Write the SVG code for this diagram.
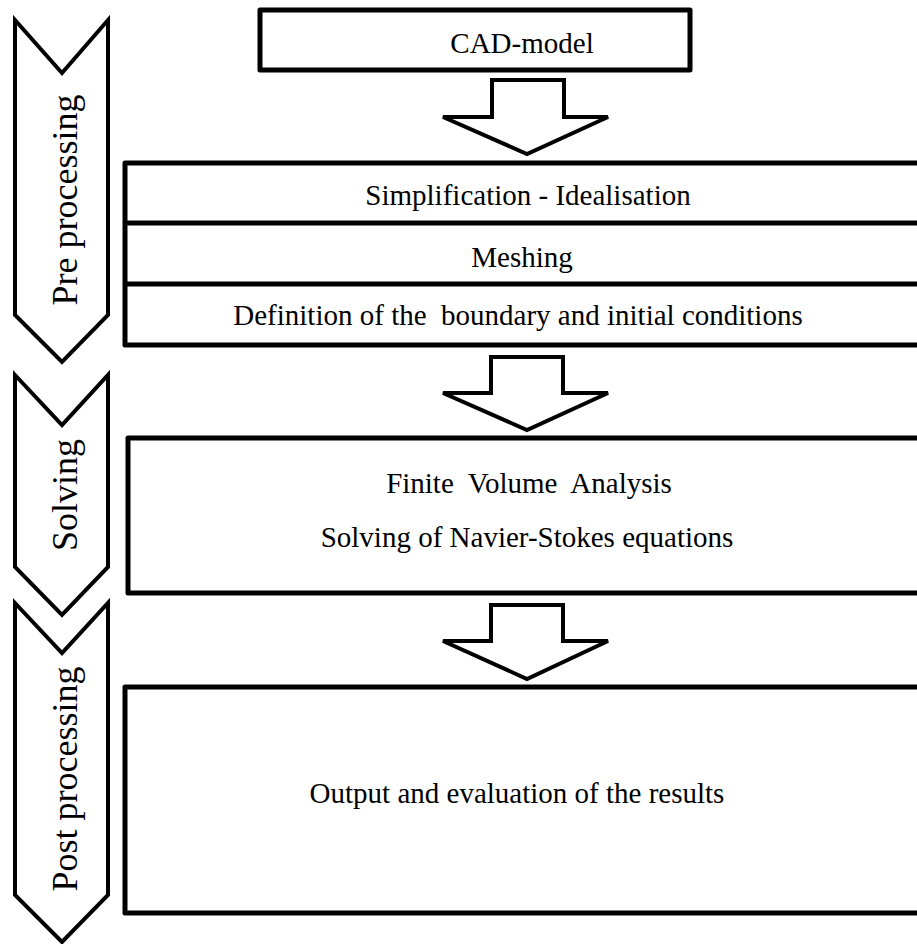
<svg xmlns="http://www.w3.org/2000/svg" width="917" height="944" viewBox="0 0 917 944">
<style>
.chev{fill:#fff;stroke:#000;stroke-width:4;stroke-linejoin:miter}
.box{fill:#fff;stroke:#000;stroke-width:5;stroke-linejoin:round}
.arr{fill:#fff;stroke:#000;stroke-width:4;stroke-linejoin:miter}
.t{font-family:"Liberation Serif","Times New Roman",serif;font-size:29px;fill:#000;text-anchor:middle}
.side{font-family:"Liberation Serif","Times New Roman",serif;font-size:36px;fill:#000;text-anchor:middle}
</style>
<rect width="917" height="944" fill="#fff"/>
<g id="phase-pre">
<polygon class="chev" points="15,20 62,73 108,20 108,315 62,362 15,315"/>
<text class="side" transform="translate(77,200) rotate(-90)">Pre processing</text>
</g>
<g id="phase-solving">
<polygon class="chev" points="15,375 62,425 108,375 108,567 62,615 15,567"/>
<text class="side" transform="translate(77,495) rotate(-90)">Solving</text>
</g>
<g id="phase-post">
<polygon class="chev" points="15,603 62,653 108,603 108,895 62,942 15,895"/>
<text class="side" transform="translate(77,779) rotate(-90)">Post processing</text>
</g>
<g id="cad-model">
<rect class="box" x="260" y="10" width="430" height="60"/>
<text class="t" x="522" y="53">CAD-model</text>
</g>
<g id="pre-steps">
<rect class="box" x="125" y="163" width="810" height="182"/>
<line x1="125" y1="223" x2="917" y2="223" stroke="#000" stroke-width="5"/>
<line x1="125" y1="284" x2="917" y2="284" stroke="#000" stroke-width="5"/>
<text class="t" x="528" y="205">Simplification - Idealisation</text>
<text class="t" x="522" y="267">Meshing</text>
<text class="t" x="518" y="325" xml:space="preserve">Definition of the  boundary and initial conditions</text>
</g>
<g id="solving-box">
<rect class="box" x="128" y="438" width="810" height="155"/>
<text class="t" x="529" y="493" xml:space="preserve">Finite  Volume  Analysis</text>
<text class="t" x="527" y="547">Solving of Navier-Stokes equations</text>
</g>
<g id="post-box">
<rect class="box" x="125" y="687" width="810" height="226"/>
<text class="t" x="517" y="803">Output and evaluation of the results</text>
</g>
<g id="connectors">
<polygon class="arr" points="492,80 564,80 564,117 608,117 527,154 443,117 492,117"/>
<polygon class="arr" points="491,357 563,357 563,393 608,393 527,430 443,393 491,393"/>
<polygon class="arr" points="491,605 563,605 563,641 608,641 527,679 443,641 491,641"/>
</g>
</svg>
